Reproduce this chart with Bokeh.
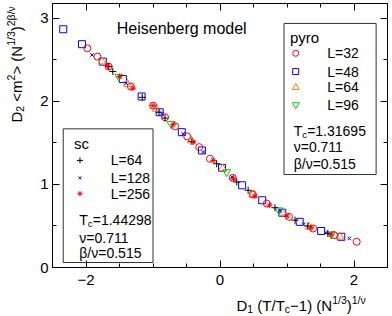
from bokeh.plotting import figure
from bokeh.models import Label, FixedTicker, Range1d, LinearAxis
from bokeh.embed import file_html
from bokeh.resources import INLINE

FONT = "Liberation Sans"

# ---------------- data ----------------
pyro32_x = [-1.98, -1.83, -1.66, -1.33, -1.00, -0.82, -0.67, -0.49, -0.31, -0.15, 0.19, 0.49, 0.70, 1.03, 1.39, 1.70, 2.04]
pyro32_y = [2.64, 2.54, 2.42, 2.18, 1.95, 1.81, 1.70, 1.58, 1.45, 1.31, 1.08, 0.88, 0.77, 0.61, 0.47, 0.39, 0.31]

pyro48_x = [-2.34, -2.06, -1.75, -1.45, -1.17, -0.90, -0.57, -0.27, 0.03, 0.33, 0.63, 0.93, 1.19, 1.51, 1.81]
pyro48_y = [2.87, 2.69, 2.48, 2.27, 2.06, 1.87, 1.63, 1.41, 1.20, 0.99, 0.81, 0.66, 0.55, 0.44, 0.37]

pyro64_x = [-1.76, -1.38, -0.95, -0.43, 0.04, 0.49, 0.93, 1.33, 1.79]
pyro64_y = [2.48, 2.21, 1.91, 1.53, 1.19, 0.88, 0.66, 0.49, 0.37]

pyro96_x = [-1.51, -0.73, 0.10, 0.88, 1.66]
pyro96_y = [2.30, 1.73, 1.15, 0.69, 0.40]

sc64_x = [-1.66, -1.60, -1.16, -0.91, -0.82, -0.42, -0.05, 0.25, 0.42, 0.82, 1.12, 1.31, 1.61]
sc64_y = [2.42, 2.36, 2.05, 1.87, 1.80, 1.52, 1.25, 1.03, 0.93, 0.72, 0.57, 0.50, 0.41]

sc128_x = [-1.91, -1.40, -0.87, -0.55, -0.25, 0.18, 0.52, 0.90, 1.25, 1.58, 1.93]
sc128_y = [2.56, 2.22, 1.85, 1.61, 1.39, 1.09, 0.86, 0.68, 0.52, 0.42, 0.35]

sc256_x = [-1.68, -1.50, -1.30, -1.00, -0.70, -0.40, -0.10, 0.20, 0.52, 0.74, 1.00, 1.36, 1.66]
sc256_y = [2.43, 2.30, 2.16, 1.95, 1.72, 1.51, 1.29, 1.07, 0.86, 0.75, 0.62, 0.48, 0.40]

pyro_labels = ["L=32", "L=48", "L=64", "L=96"]
sc_labels = ["L=64", "L=128", "L=256"]
x_ticks = [-2, 0, 2]
y_ticks = [0, 1, 2, 3]

# ---------------- geometry ----------------
# The drawing area covers the whole canvas; the axes are pinned (fixed_location)
# to form the plot box, so that texts outside the box are not clipped.
CW, CH = 391, 315                     # canvas size
BX0, BX1, BY0, BY1 = 52, 387, 3, 267  # plot box in canvas pixels
XA, XB = -2.5, 2.5                    # box data extent
YA, YB = 0.0, 3.18
sx = (BX1 - BX0) / (XB - XA)
sy = (BY1 - BY0) / (YB - YA)
xr = Range1d(XA - BX0 / sx, XB + (CW - BX1) / sx)
yr = Range1d(YA - (CH - BY1) / sy, YB + BY0 / sy)

def px2d(px, py):
    return XA + (px - BX0) / sx, YA + (BY1 - py) / sy

def d2px(x, y):
    return BX0 + (x - XA) * sx, BY1 - (y - YA) * sy

W = {'D': .722, ' ': .278, '\u00a0': .278, '(': .333, ')': .333, 'T': .611, '/': .278, 'c': .5,
     '\u2212': .584, '1': .556, '2': .556, '3': .556, 'N': .722, '\u03bd': .5, '\u03b2': .573,
     '<': .584, '>': .584, 'm': .833, '=': .584, '.': .278}

p = figure(x_range=xr, y_range=yr, frame_width=CW, frame_height=CH,
           min_border=0, min_border_left=0, min_border_right=0,
           min_border_top=0, min_border_bottom=0,
           output_backend="svg", toolbar_location=None)
p.grid.visible = False
p.outline_line_color = None
p.background_fill_color = "white"
p.border_fill_color = "white"

p.add_layout(LinearAxis(), "above")
p.add_layout(LinearAxis(), "right")

xminor = [-2.5 + 0.5 * i for i in range(11)]
yminor = [0.5 * i for i in range(7)]
for ax in p.xaxis:
    ax.ticker = FixedTicker(ticks=x_ticks, minor_ticks=xminor)
    ax.bounds = (XA, XB)
for ax in p.yaxis:
    ax.ticker = FixedTicker(ticks=y_ticks, minor_ticks=yminor)
    ax.bounds = (YA, YB)
for ax in p.xaxis + p.yaxis:
    ax.major_tick_in = 7
    ax.major_tick_out = 0
    ax.minor_tick_in = 4
    ax.minor_tick_out = 0
    ax.axis_line_color = "black"
    ax.axis_line_width = 1
    ax.major_tick_line_color = "black"
    ax.minor_tick_line_color = "black"
    ax.major_label_text_font = FONT
    ax.major_label_text_font_size = "15px"
    ax.major_label_text_color = "black"
p.below[0].fixed_location = YA
p.above[0].fixed_location = YB
p.left[0].fixed_location = XA
p.right[0].fixed_location = XB
p.below[0].major_label_overrides = {-2: "\u22122", 0: "0", 2: "2"}
p.below[0].major_label_standoff = 7
p.left[0].major_label_standoff = 4
p.above[0].major_label_overrides = {t: "" for t in x_ticks}
p.right[0].major_label_overrides = {t: "" for t in y_ticks}
for ax in (p.above[0], p.right[0]):
    ax.major_label_standoff = 0

# ---------------- legend boxes (drawn first, under markers) ----------------
p.quad(left=[0.955], right=[2.33], top=[2.94], bottom=[1.12],
       fill_color="white", line_color="#333333", line_width=1)
p.quad(left=[-2.34], right=[-1.00], top=[1.67], bottom=[0.06],
       fill_color="white", line_color="#333333", line_width=1)

# ---------------- data ----------------
RED, BLUE, ORANGE, GREEN = "#ff0000", "#0000ff", "#ff7f00", "#00cc00"
p.scatter(pyro48_x, pyro48_y, marker="square", size=7, line_color=BLUE, fill_color=None, line_width=1)
p.scatter(pyro64_x, pyro64_y, marker="triangle", size=8, line_color=ORANGE, fill_color=None, line_width=1)
p.scatter(pyro96_x, pyro96_y, marker="inverted_triangle", size=8, line_color=GREEN, fill_color=None, line_width=1)
p.scatter(pyro32_x, pyro32_y, marker="circle", size=7, line_color=RED, fill_color=None, line_width=1)
p.scatter(sc64_x, sc64_y, marker="cross", size=7, line_color="black", line_width=1)
p.scatter(sc128_x, sc128_y, marker="x", size=5, line_color=BLUE, line_width=1)
p.scatter(sc256_x, sc256_y, marker="asterisk", size=6, line_color=RED, line_width=1)

# legend markers
pyro_mx = [1.13] * 4
pyro_my = [2.58, 2.36, 2.17, 1.96]
p.scatter(pyro_mx[0:1], pyro_my[0:1], marker="circle", size=6, line_color=RED, fill_color=None)
p.scatter(pyro_mx[1:2], pyro_my[1:2], marker="square", size=6, line_color=BLUE, fill_color=None)
p.scatter(pyro_mx[2:3], pyro_my[2:3], marker="triangle", size=7, line_color=ORANGE, fill_color=None)
p.scatter(pyro_mx[3:4], pyro_my[3:4], marker="inverted_triangle", size=7, line_color=GREEN, fill_color=None)
sc_mx = [-2.09] * 3
sc_my = [1.29, 1.08, 0.89]
p.scatter(sc_mx[0:1], sc_my[0:1], marker="cross", size=6, line_color="black")
p.scatter(sc_mx[1:2], sc_my[1:2], marker="x", size=4, line_color=BLUE)
p.scatter(sc_mx[2:3], sc_my[2:3], marker="asterisk", size=5, line_color=RED)

# ---------------- text helpers ----------------
def runs(px, py, pieces, base=15, angle=0.0):
    """Place text runs starting at canvas pixel (px, py), baseline-aligned."""
    for text, kind in pieces:
        size = base if kind == "n" else base * 0.7
        shift = 0.0 if kind == "n" else (0.22 * base if kind == "sub" else -0.36 * base)
        if angle == 0:
            lx, ly = px, py + shift
        else:
            lx, ly = px + shift, py
        xd, yd = px2d(lx, ly)
        p.add_layout(Label(x=xd, y=yd, text=text, text_font=FONT,
                           text_font_size=f"{size:.1f}px", angle=angle,
                           text_baseline="alphabetic", text_align="left",
                           text_color="black"))
        adv = sum(W.get(c, .556) for c in text) * size
        if angle == 0:
            px += adv
        else:
            py -= adv

def runs_d(x, y, pieces, base=14):
    px, py = d2px(x, y)
    runs(px, py, pieces, base=base)

def text_d(x, y, text, size=14, baseline="alphabetic"):
    p.add_layout(Label(x=x, y=y, text=text, text_font=FONT, text_font_size=f"{size}px",
                       text_baseline=baseline, text_align="left", text_color="black"))

NB = "\u00a0"
# axis labels
runs(236, 305, [("D", "n"), ("1", "sub"), (NB + "(T/T", "n"), ("c", "sub"), ("\u22121)" + NB + "(N", "n"),
                ("1/3", "sup"), (")", "n"), ("1/\u03bd", "sup")], base=15)
runs(16, 122, [("D", "n"), ("2", "sub"), (NB + "<m", "n"), ("2", "sup"), (">" + NB + "(N", "n"),
               ("1/3", "sup"), (")", "n"), ("2\u03b2/\u03bd", "sup")], base=15, angle=1.5707963)

# title
text_d(-1.54, 2.88, "Heisenberg model", size=16)

# pyro legend
text_d(1.045, 2.77, "pyro", size=15)
for lab, yy in zip(pyro_labels, pyro_my):
    text_d(1.60, yy, lab, size=14, baseline="middle")
runs_d(1.10, 1.64, [("T", "n"), ("c", "sub"), ("=1.31695", "n")], base=14)
text_d(1.10, 1.45, "\u03bd=0.711")
text_d(1.10, 1.25, "\u03b2/\u03bd=0.515")

# sc legend
text_d(-2.18, 1.49, "sc", size=15)
for lab, yy in zip(sc_labels, sc_my):
    text_d(-1.63, yy, lab, size=14, baseline="middle")
runs_d(-2.10, 0.57, [("T", "n"), ("c", "sub"), ("=1.44298", "n")], base=14)
text_d(-2.10, 0.36, "\u03bd=0.711")
text_d(-2.10, 0.17, "\u03b2/\u03bd=0.515")

open("out.html", "w").write(file_html(p, INLINE))
